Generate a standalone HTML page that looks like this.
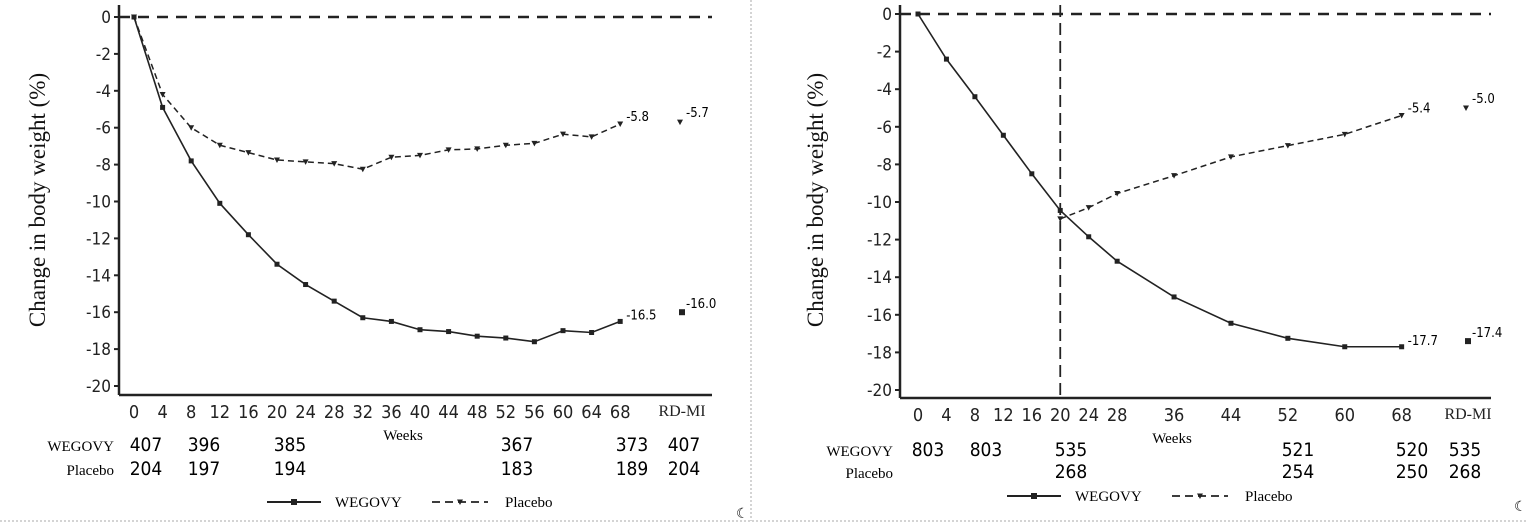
<!DOCTYPE html>
<html><head><meta charset="utf-8"><style>
html,body{margin:0;padding:0;background:#fff;}
svg{display:block;font-family:"Liberation Serif",serif;}
.s{font-family:"DejaVu Sans Condensed","Liberation Sans Narrow","Liberation Sans",sans-serif;}
</style></head><body>
<svg id="c" width="1526" height="526" viewBox="0 0 1526 526" xmlns="http://www.w3.org/2000/svg"></svg>
<script>
const svg=document.getElementById('c');let h='';
h+='<line x1="751" y1="0" x2="751" y2="521" stroke="#aaa" stroke-dasharray="2,2"/>';
h+='<line x1="0" y1="521" x2="1526" y2="521" stroke="#aaa" stroke-dasharray="2,2"/>';
h+='<text x="736" y="518" font-size="14">☾</text><text x="1514" y="511" font-size="14">☾</text>';
function chart(o){
 const Y=v=>o.y0+(-v)/20*(o.y20-o.y0);
 const X=w=>o.x0+w/4*o.dx;
 for(let v=0;v>=-20;v-=2){const y=Y(v);
  h+=`<line x1="${o.ax-5}" y1="${y}" x2="${o.ax}" y2="${y}" stroke="#222" stroke-width="2"/>`;
  h+=`<text class="s" x="${o.ax-8}" y="${y+6}" font-size="17" text-anchor="end" fill="#222">${v}</text>`;}
 h+=`<line x1="${o.ax}" y1="${o.top}" x2="${o.ax}" y2="${o.xb}" stroke="#222" stroke-width="2.5"/>`;
 h+=`<line x1="${o.ax}" y1="${o.xb}" x2="${o.xr}" y2="${o.xb}" stroke="#222" stroke-width="2.5"/>`;
 h+=`<line x1="${o.ax}" y1="${Y(0)}" x2="${o.xr}" y2="${Y(0)}" stroke="#222" stroke-width="2.5" stroke-dasharray="11,8"/>`;
 if(o.vl!=null) h+=`<line x1="${X(o.vl)}" y1="${o.top}" x2="${X(o.vl)}" y2="${o.xb}" stroke="#222" stroke-width="1.8" stroke-dasharray="12,6"/>`;
 o.ticks.forEach(w=>{h+=`<text class="s" x="${X(w)}" y="${o.xb+23}" font-size="18" text-anchor="middle" fill="#222">${w}</text>`;});
 h+=`<text x="${o.rdx}" y="${o.xb+21}" font-size="16" text-anchor="middle" fill="#222">RD-MI</text>`;
 h+=`<text x="${o.wx}" y="${o.xb+45}" font-size="15" text-anchor="middle">Weeks</text>`;
 h+=`<text transform="translate(${o.lx},${o.ly}) rotate(-90)" font-size="23" text-anchor="middle" fill="#111">Change in body weight (%)</text>`;
 const pt=(d)=>d.map(p=>`${X(p[0])},${Y(p[1])}`).join(' ');
 h+=`<polyline points="${pt(o.p)}" fill="none" stroke="#222" stroke-width="1.5" stroke-dasharray="6,4"/>`;
 h+=`<polyline points="${pt(o.w)}" fill="none" stroke="#222" stroke-width="1.6"/>`;
 o.w.forEach(p=>{h+=`<rect x="${X(p[0])-2.5}" y="${Y(p[1])-2.5}" width="5" height="5" fill="#222"/>`;});
 const tri=(x,y)=>`<polygon points="${x-3},${y-2.5} ${x+3},${y-2.5} ${x},${y+3}" fill="#222"/>`;
 o.p.forEach(p=>{h+=tri(X(p[0]),Y(p[1]));});
 h+=`<rect x="${o.rdx-3}" y="${Y(o.rdw)-3}" width="6" height="6" fill="#222"/>`+tri(o.rdx-2,Y(o.rdp));
 h+=`<text class="s" x="${X(68)+6}" y="${Y(o.w[o.w.length-1][1])-2}" font-size="13">${o.lw}</text>`;
 h+=`<text class="s" x="${X(68)+6}" y="${Y(o.p[o.p.length-1][1])-3}" font-size="13">${o.lp}</text>`;
 h+=`<text class="s" x="${o.rdx+4}" y="${Y(o.rdw)-4}" font-size="13">${o.lrw}</text>`;
 h+=`<text class="s" x="${o.rdx+4}" y="${Y(o.rdp)-5}" font-size="13">${o.lrp}</text>`;
 h+=`<text x="${o.nlx}" y="${o.r1}" font-size="15" text-anchor="end">WEGOVY</text>`;
 h+=`<text x="${o.nlx}" y="${o.r2}" font-size="15" text-anchor="end">Placebo</text>`;
 o.n1.forEach(n=>{h+=`<text class="s" x="${n[0]}" y="${o.r1}" font-size="19" text-anchor="middle">${n[1]}</text>`;});
 o.n2.forEach(n=>{h+=`<text class="s" x="${n[0]}" y="${o.r2}" font-size="19" text-anchor="middle">${n[1]}</text>`;});
 const L=o.leg;
 h+=`<line x1="${L[0]}" y1="${L[1]}" x2="${L[0]+54}" y2="${L[1]}" stroke="#222" stroke-width="2"/><rect x="${L[0]+24}" y="${L[1]-3}" width="6" height="6" fill="#222"/>`;
 h+=`<text x="${L[0]+68}" y="${L[1]+5}" font-size="15">WEGOVY</text>`;
 h+=`<line x1="${L[0]+165}" y1="${L[1]}" x2="${L[0]+221}" y2="${L[1]}" stroke="#222" stroke-width="1.8" stroke-dasharray="8,5"/>`+tri(L[0]+193,L[1]);
 h+=`<text x="${L[0]+238}" y="${L[1]+5}" font-size="15">Placebo</text>`;
}
chart({x0:134,dx:28.6,y0:17,y20:386,ax:119,top:5,xb:395,xr:712,vl:null,
 ticks:[0,4,8,12,16,20,24,28,32,36,40,44,48,52,56,60,64,68],rdx:682,wx:403,lx:45,ly:200,
 w:[[0,0],[4,-4.9],[8,-7.8],[12,-10.1],[16,-11.8],[20,-13.4],[24,-14.5],[28,-15.4],[32,-16.3],[36,-16.5],[40,-16.95],[44,-17.05],[48,-17.3],[52,-17.4],[56,-17.6],[60,-17.0],[64,-17.1],[68,-16.5]],
 p:[[0,0],[4,-4.2],[8,-6.0],[12,-6.95],[16,-7.35],[20,-7.75],[24,-7.85],[28,-7.95],[32,-8.25],[36,-7.6],[40,-7.5],[44,-7.2],[48,-7.15],[52,-6.95],[56,-6.85],[60,-6.35],[64,-6.5],[68,-5.8]],
 rdw:-16.0,rdp:-5.7,lw:'-16.5',lp:'-5.8',lrw:'-16.0',lrp:'-5.7',
 nlx:114,r1:451,r2:475,n1:[[146,407],[204,396],[290,385],[517,367],[632,373],[684,407]],
 n2:[[146,204],[204,197],[290,194],[517,183],[632,189],[684,204]],leg:[267,502]});
chart({x0:918,dx:28.45,y0:14,y20:390,ax:900,top:5,xb:398,xr:1491,vl:20,
 ticks:[0,4,8,12,16,20,24,28,36,44,52,60,68],rdx:1468,wx:1172,lx:823,ly:200,
 w:[[0,0],[4,-2.4],[8,-4.4],[12,-6.45],[16,-8.5],[20,-10.45],[24,-11.85],[28,-13.15],[36,-15.05],[44,-16.45],[52,-17.25],[60,-17.7],[68,-17.7]],
 p:[[20,-10.9],[24,-10.3],[28,-9.55],[36,-8.6],[44,-7.6],[52,-7.0],[60,-6.4],[68,-5.4]],
 rdw:-17.4,rdp:-5.0,lw:'-17.7',lp:'-5.4',lrw:'-17.4',lrp:'-5.0',
 nlx:893,r1:456,r2:478,n1:[[928,803],[986,803],[1071,535],[1298,521],[1412,520],[1465,535]],
 n2:[[1071,268],[1298,254],[1412,250],[1465,268]],leg:[1007,496]});
svg.innerHTML=h;
</script>
</body></html>
